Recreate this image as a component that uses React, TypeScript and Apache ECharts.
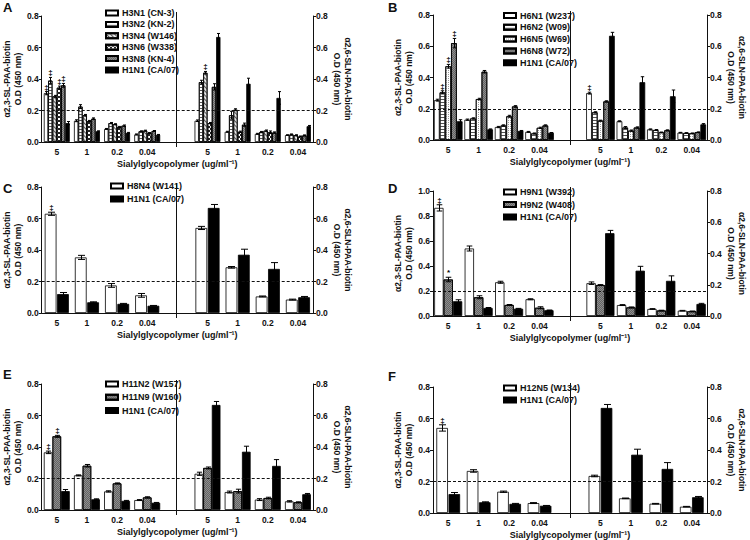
import React, { useEffect, useRef } from 'react';
import * as echarts from 'echarts';

// ---------- shared categories / texts ----------
const CONC = ['5', '1', '0.2', '0.04'];
const X_TITLE = 'Sialylglycopolymer (ug/ml⁻¹)';
const SL_TITLE = 'α2,3-SL-PAA-biotin\nO.D (450 nm)';
const SLN_TITLE = 'α2,6-SLN-PAA-biotin\nO.D (450 nm)';
const THRESHOLD = 0.2;

// reference strain (same control in most panels)
const H1N1 = 'H1N1 (CA/07)';
const H1N1_SL = [0.12, 0.068, 0.058, 0.046];
const H1N1_SL_ERR = [0.01, 0.003, 0.003, 0.002];
const H1N1_SLN = [0.667, 0.37, 0.28, 0.1];
const H1N1_SLN_ERR = [0.022, 0.035, 0.04, 0.005];

// ---------- Panel A ----------
const A_NAMES = ['H3N1 (CN-3)', 'H3N2 (KN-2)', 'H3N4 (W146)', 'H3N6 (W338)', 'H3N8 (KN-4)', H1N1];
const A_FILLS = ['white', 'hlines', 'diag', 'checker', 'gray', 'black'];
const A_SL = [
  [0.31, 0.135, 0.083, 0.048],
  [0.39, 0.225, 0.12, 0.068],
  [0.29, 0.17, 0.113, 0.072],
  [0.345, 0.133, 0.095, 0.057],
  [0.36, 0.148, 0.104, 0.07],
  H1N1_SL,
];
const A_SL_ERR = [
  [0.01, 0.006, 0.003, 0.003],
  [0.02, 0.012, 0.004, 0.003],
  [0.006, 0.005, 0.003, 0.003],
  [0.01, 0.004, 0.004, 0.003],
  [0.012, 0.005, 0.004, 0.003],
  H1N1_SL_ERR,
];
const A_SLN = [
  [0.135, 0.065, 0.052, 0.044],
  [0.38, 0.17, 0.063, 0.048],
  [0.44, 0.205, 0.072, 0.043],
  [0.12, 0.065, 0.062, 0.035],
  [0.35, 0.11, 0.06, 0.042],
  H1N1_SLN,
];
const A_SLN_ERR = [
  [0.005, 0.003, 0.003, 0.002],
  [0.012, 0.025, 0.004, 0.003],
  [0.008, 0.006, 0.004, 0.003],
  [0.004, 0.004, 0.008, 0.003],
  [0.02, 0.01, 0.004, 0.003],
  H1N1_SLN_ERR,
];
const A_SL_MARKS = [[0, 0, '‡'], [1, 0, '‡'], [3, 0, '‡'], [4, 0, '‡']];
const A_SLN_MARKS = [[2, 0, '‡']];

// ---------- Panel B ----------
const B_NAMES = ['H6N1 (W237)', 'H6N2 (W09)', 'H6N5 (W69)', 'H6N8 (W72)', H1N1];
const B_FILLS = ['white', 'hlines', 'dots', 'gray', 'black'];
const B_SL = [
  [0.255, 0.13, 0.083, 0.052],
  [0.305, 0.138, 0.093, 0.042],
  [0.472, 0.262, 0.152, 0.078],
  [0.62, 0.437, 0.215, 0.093],
  H1N1_SL,
];
const B_SL_ERR = [
  [0.006, 0.004, 0.004, 0.003],
  [0.01, 0.004, 0.004, 0.003],
  [0.012, 0.005, 0.006, 0.004],
  [0.03, 0.008, 0.005, 0.004],
  H1N1_SL_ERR,
];
const B_SLN = [
  [0.3, 0.12, 0.068, 0.047],
  [0.177, 0.08, 0.064, 0.045],
  [0.124, 0.06, 0.049, 0.043],
  [0.247, 0.08, 0.062, 0.05],
  H1N1_SLN,
];
const B_SLN_ERR = [
  [0.006, 0.003, 0.003, 0.002],
  [0.004, 0.006, 0.003, 0.002],
  [0.003, 0.004, 0.002, 0.002],
  [0.004, 0.004, 0.003, 0.002],
  H1N1_SLN_ERR,
];
const B_SL_MARKS = [[1, 0, '‡'], [2, 0, '‡'], [3, 0, '‡']];
const B_SLN_MARKS = [[0, 0, '‡']];

// ---------- Panel C ----------
const C_NAMES = ['H8N4 (W141)', H1N1];
const C_FILLS = ['white', 'black'];
const C_SL = [[0.63, 0.353, 0.175, 0.112], H1N1_SL];
const C_SL_ERR = [[0.01, 0.013, 0.012, 0.012], H1N1_SL_ERR];
const C_SLN = [[0.54, 0.29, 0.105, 0.085], H1N1_SLN];
const C_SLN_ERR = [[0.01, 0.005, 0.003, 0.003], H1N1_SLN_ERR];
const C_SL_MARKS = [[0, 0, '‡']];
const C_SLN_MARKS: any[] = [];

// ---------- Panel D ----------
const D_NAMES = ['H9N1 (W392)', 'H9N2 (W408)', H1N1];
const D_FILLS = ['white', 'gray', 'black'];
const D_SL = [
  [0.865, 0.54, 0.27, 0.134],
  [0.292, 0.15, 0.088, 0.066],
  [0.118, 0.064, 0.058, 0.046],
];
const D_SL_ERR = [
  [0.025, 0.02, 0.008, 0.004],
  [0.018, 0.012, 0.004, 0.008],
  [0.012, 0.004, 0.003, 0.002],
];
const D_SLN = [
  [0.21, 0.07, 0.045, 0.034],
  [0.198, 0.055, 0.035, 0.03],
  [0.53, 0.29, 0.225, 0.077],
];
const D_SLN_ERR = [
  [0.008, 0.003, 0.002, 0.002],
  [0.003, 0.003, 0.002, 0.002],
  [0.018, 0.028, 0.032, 0.004],
];
const D_SL_MARKS = [[0, 0, '‡'], [1, 0, '*']];
const D_SLN_MARKS: any[] = [];

// ---------- Panel E ----------
const E_NAMES = ['H11N2 (W157)', 'H11N9 (W160)', H1N1];
const E_FILLS = ['white', 'gray', 'black'];
const E_SL = [
  [0.366, 0.22, 0.118, 0.063],
  [0.468, 0.281, 0.169, 0.08],
  H1N1_SL,
];
const E_SL_ERR = [
  [0.008, 0.003, 0.004, 0.003],
  [0.006, 0.008, 0.003, 0.004],
  H1N1_SL_ERR,
];
const E_SLN = [
  [0.23, 0.114, 0.066, 0.055],
  [0.267, 0.12, 0.076, 0.049],
  H1N1_SLN,
];
const E_SLN_ERR = [
  [0.01, 0.006, 0.006, 0.004],
  [0.006, 0.012, 0.005, 0.003],
  H1N1_SLN_ERR,
];
const E_SL_MARKS = [[0, 0, '‡'], [1, 0, '‡']];
const E_SLN_MARKS: any[] = [];

// ---------- Panel F ----------
const F_NAMES = ['H12N5 (W134)', H1N1];
const F_FILLS = ['white', 'black'];
const F_SL = [[0.54, 0.267, 0.135, 0.063], H1N1_SL];
const F_SL_ERR = [[0.02, 0.008, 0.004, 0.003], H1N1_SL_ERR];
const F_SLN = [[0.235, 0.093, 0.059, 0.04], H1N1_SLN];
const F_SLN_ERR = [[0.005, 0.002, 0.002, 0.002], H1N1_SLN_ERR];
const F_SL_MARKS = [[0, 0, '‡']];
const F_SLN_MARKS: any[] = [];

const PANELS = [
  { id: 'A', names: A_NAMES, fills: A_FILLS, sl: A_SL, slErr: A_SL_ERR, sln: A_SLN, slnErr: A_SLN_ERR, slMarks: A_SL_MARKS, slnMarks: A_SLN_MARKS, slMax: 0.8, slnMax: 0.8 },
  { id: 'B', names: B_NAMES, fills: B_FILLS, sl: B_SL, slErr: B_SL_ERR, sln: B_SLN, slnErr: B_SLN_ERR, slMarks: B_SL_MARKS, slnMarks: B_SLN_MARKS, slMax: 0.8, slnMax: 0.8 },
  { id: 'C', names: C_NAMES, fills: C_FILLS, sl: C_SL, slErr: C_SL_ERR, sln: C_SLN, slnErr: C_SLN_ERR, slMarks: C_SL_MARKS, slnMarks: C_SLN_MARKS, slMax: 0.8, slnMax: 0.8 },
  { id: 'D', names: D_NAMES, fills: D_FILLS, sl: D_SL, slErr: D_SL_ERR, sln: D_SLN, slnErr: D_SLN_ERR, slMarks: D_SL_MARKS, slnMarks: D_SLN_MARKS, slMax: 1.0, slnMax: 0.8 },
  { id: 'E', names: E_NAMES, fills: E_FILLS, sl: E_SL, slErr: E_SL_ERR, sln: E_SLN, slnErr: E_SLN_ERR, slMarks: E_SL_MARKS, slnMarks: E_SLN_MARKS, slMax: 0.8, slnMax: 0.8 },
  { id: 'F', names: F_NAMES, fills: F_FILLS, sl: F_SL, slErr: F_SL_ERR, sln: F_SLN, slnErr: F_SLN_ERR, slMarks: F_SL_MARKS, slnMarks: F_SLN_MARKS, slMax: 0.8, slnMax: 0.8 },
];

// ---------- layout & styles ----------
const LAYOUT: Record<string, any> = {
  A: { grid: { left: 39, top: 16, width: 274, height: 126 }, letter: [3, 1], legend: [105, 8.5, 2.4], catGap: 0.14, barGap: 0 },
  B: { grid: { left: 433, top: 15, width: 274, height: 125 }, letter: [388, 1], legend: [503, 11, 2.8], catGap: 0.06, barGap: 0 },
  C: { grid: { left: 39, top: 187, width: 274, height: 126 }, letter: [3, 182], legend: [110, 181.5, 4], catGap: 0.2, barGap: 0.05 },
  D: { grid: { left: 433, top: 191, width: 274, height: 125 }, letter: [388, 182], legend: [503, 187.5, 3.5], catGap: 0.08, barGap: 0 },
  E: { grid: { left: 39, top: 384, width: 274, height: 126 }, letter: [3, 368], legend: [105, 379.5, 4.3], catGap: 0.14, barGap: 0 },
  F: { grid: { left: 433, top: 387, width: 274, height: 126 }, letter: [388, 370], legend: [503, 383.5, 3], catGap: 0.22, barGap: 0.05 },
};

const INK = '#111';
const FF = '"Liberation Sans", Arial, sans-serif';

const FILLS: Record<string, any> = {
  white: { color: '#ffffff' },
  black: { color: '#000000' },
  hlines: { color: '#ffffff', decal: { symbol: 'rect', symbolSize: 1, dashArrayX: [1, 0], dashArrayY: [1, 2], color: '#555' } },
  diag: { color: '#e6e6e6', decal: { symbol: 'rect', symbolSize: 1, dashArrayX: [1, 0], dashArrayY: [1, 1.5], rotation: Math.PI / 4, color: '#555' } },
  checker: { color: '#ffffff', decal: { symbol: 'rect', symbolSize: 1, dashArrayX: [[2, 2], [0, 2, 2, 0]], dashArrayY: [2, 0], color: '#222' } },
  gray: { color: '#8e8e8e', decal: { symbol: 'rect', symbolSize: 1, dashArrayX: [[1, 1], [0, 1, 1, 0]], dashArrayY: [1, 0], color: 'rgba(0,0,0,0.3)' } },
  dots: { color: '#ffffff', decal: { symbol: 'rect', symbolSize: 1, dashArrayX: [1, 1], dashArrayY: [1, 1], color: '#999' } },
};

const txt = (size: number) => ({ color: INK, fontSize: size, fontWeight: 'bold', fontFamily: FF });

function markFor(list: any[], k: number, i: number): string {
  const m = list.find((e) => e[0] === k && e[1] === i);
  return m ? m[2] : '';
}

function makeErrRender(n: number, catGap: number, barGap: number, marks: string[]) {
  return (params: any, api: any) => {
    const slot = api.value(0);
    const mean = api.value(1);
    const err = api.value(2);
    const k = api.value(3);
    const band = api.size([1, 0])[0];
    const inner = band * (1 - catGap);
    const bw = inner / (n + (n - 1) * barGap);
    const c = api.coord([slot, mean]);
    const x = Math.round(c[0] - inner / 2 + k * bw * (1 + barGap) + bw / 2) + 0.5;
    const yT = api.coord([slot, mean + err])[1];
    const yB = api.coord([slot, Math.max(0, mean - err)])[1];
    const half = Math.max(1.5, Math.min(bw * 0.3, 3.5));
    const st = { stroke: '#000', lineWidth: 1 };
    const children: any[] = [
      { type: 'line', shape: { x1: x, y1: yT, x2: x, y2: yB }, style: st },
      { type: 'line', shape: { x1: x - half, y1: yT, x2: x + half, y2: yT }, style: st },
      { type: 'line', shape: { x1: x - half, y1: yB, x2: x + half, y2: yB }, style: st },
    ];
    const mark = marks[params.dataIndex];
    if (mark) {
      children.push({
        type: 'text',
        style: { text: mark, x, y: yT - 0.5, align: 'center', verticalAlign: 'bottom', fill: '#000', fontSize: 8, fontWeight: 'bold', fontFamily: FF },
      });
    }
    return { type: 'group', children };
  };
}

function buildOption() {
  const grid: any[] = [];
  const xAxis: any[] = [];
  const yAxis: any[] = [];
  const series: any[] = [];
  const legend: any[] = [];
  const title: any[] = [];
  const graphic: any[] = [];
  const slots = [...CONC, '', ...CONC];
  const pad = [null, null, null, null, null];

  PANELS.forEach((p, pi) => {
    const lay = LAYOUT[p.id];
    const g = lay.grid;
    grid.push({ ...g });
    const xi = pi * 2;
    const yi = pi * 2;
    xAxis.push({
      type: 'category', gridIndex: pi, data: slots,
      axisLine: { show: true, lineStyle: { color: INK, width: 1 } },
      axisTick: { show: false },
      axisLabel: { interval: 0, margin: 5, ...txt(8.5) },
      name: X_TITLE, nameLocation: 'middle', nameGap: 17, nameTextStyle: txt(9),
    });
    xAxis.push({ type: 'category', gridIndex: pi, data: slots, show: false });
    const yCommon = {
      type: 'value', gridIndex: pi, min: 0, interval: 0.2,
      axisLine: { show: true, lineStyle: { color: INK, width: 1 } },
      axisTick: { show: true, length: 3, lineStyle: { color: INK, width: 1 } },
      splitLine: { show: false },
      axisLabel: { margin: 3, formatter: (v: number) => v.toFixed(1), ...txt(8.5) },
      nameLocation: 'middle', nameTextStyle: { ...txt(8.5), lineHeight: 11 },
    };
    yAxis.push({ ...yCommon, position: 'left', max: p.slMax, name: SL_TITLE, nameRotate: 90, nameGap: 13 });
    yAxis.push({ ...yCommon, position: 'right', max: p.slnMax, name: SLN_TITLE, nameRotate: -90, nameGap: 17 });

    const n = p.names.length;
    p.names.forEach((name, k) => {
      const common = {
        type: 'bar', name, silent: true,
        barGap: `${lay.barGap * 100}%`, barCategoryGap: `${lay.catGap * 100}%`,
        itemStyle: { ...FILLS[p.fills[k]], borderColor: '#000', borderWidth: 0.8 },
        emphasis: { disabled: true },
      };
      const left: any = { ...common, xAxisIndex: xi, yAxisIndex: yi, data: [...p.sl[k], ...pad] };
      if (k === 0) {
        left.markLine = {
          silent: true, symbol: ['none', 'none'], label: { show: false },
          lineStyle: { type: [3, 2], color: INK, width: 1 },
          data: [{ yAxis: THRESHOLD }],
        };
      }
      series.push(left);
      series.push({ ...common, xAxisIndex: xi + 1, yAxisIndex: yi + 1, data: [...pad, ...p.sln[k]] });
    });

    const slData: any[] = [];
    const slMarks: string[] = [];
    const slnData: any[] = [];
    const slnMarks: string[] = [];
    p.names.forEach((_, k) => {
      p.sl[k].forEach((v, i) => {
        slData.push([i, v, p.slErr[k][i], k]);
        slMarks.push(markFor(p.slMarks, k, i));
      });
      p.sln[k].forEach((v, i) => {
        slnData.push([i + 5, v, p.slnErr[k][i], k]);
        slnMarks.push(markFor(p.slnMarks, k, i));
      });
    });
    series.push({
      type: 'custom', xAxisIndex: xi, yAxisIndex: yi, silent: true, z: 5, clip: false,
      encode: { x: 0, y: 1 }, data: slData, renderItem: makeErrRender(n, lay.catGap, lay.barGap, slMarks),
    });
    series.push({
      type: 'custom', xAxisIndex: xi + 1, yAxisIndex: yi + 1, silent: true, z: 5, clip: false,
      encode: { x: 0, y: 1 }, data: slnData, renderItem: makeErrRender(n, lay.catGap, lay.barGap, slnMarks),
    });

    legend.push({
      orient: 'vertical', left: lay.legend[0], top: lay.legend[1], itemGap: lay.legend[2],
      itemWidth: 12, itemHeight: 5, icon: 'rect', selectedMode: false, padding: 0,
      data: p.names, textStyle: { ...txt(9), padding: [0, 0, 0, -1] },
    });
    title.push({ text: p.id, left: lay.letter[0], top: lay.letter[1], padding: 0, textStyle: txt(13) });

    const dx = Math.round(g.left + g.width / 2) + 0.5;
    graphic.push({
      type: 'line', silent: true,
      shape: { x1: dx, y1: g.top - 4, x2: dx, y2: g.top + g.height + 5 },
      style: { stroke: INK, lineWidth: 1 },
    });
  });

  return { animation: false, backgroundColor: '#fff', grid, xAxis, yAxis, series, legend, title, graphic };
}

export default function App() {
  const ref = useRef<HTMLDivElement>(null);
  useEffect(() => {
    if (!ref.current) return;
    const chart = echarts.init(ref.current, null, { renderer: 'svg' });
    chart.setOption(buildOption() as any);
    return () => chart.dispose();
  }, []);
  return <div ref={ref} style={{ width: 750, height: 540, position: 'absolute', left: 0, top: 0 }} />;
}
